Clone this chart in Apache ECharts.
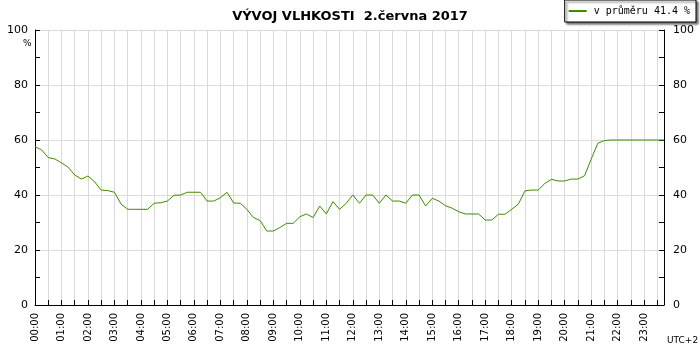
<!DOCTYPE html>
<html><head><meta charset="utf-8">
<script src="https://cdn.jsdelivr.net/npm/echarts@6/dist/echarts.min.js"></script>
<style>html,body{margin:0;padding:0;background:#fff}#c{width:700px;height:350px}</style>
</head><body><div id="c"></div>
<script>
// humidity (%) every 15 minutes from 00:00 to 23:45
const stepMinutes = 15;
const humidity = [
  57.6, 56.4, 53.6, 53.1, 51.7, 50.1, 47.3, 45.8, 46.9, 44.8, 41.8, 41.6,
  41.0, 36.7, 34.8, 34.8, 34.8, 34.8, 37.0, 37.2, 37.8, 39.9, 40.0, 41.0,
  41.0, 41.0, 37.8, 37.8, 39.0, 41.0, 37.1, 37.0, 34.8, 31.8, 30.7, 26.9,
  26.9, 28.2, 29.7, 29.7, 32.1, 33.1, 31.8, 36.0, 33.1, 37.6, 34.8, 37.0,
  40.0, 37.0, 40.0, 40.0, 37.0, 40.0, 37.8, 37.8, 37.0, 40.0, 40.0, 36.0,
  38.8, 37.8, 36.1, 35.2, 33.9, 33.1, 33.1, 33.1, 30.9, 30.9, 33.0, 33.0,
  34.8, 36.7, 41.5, 41.8, 41.8, 44.2, 45.7, 45.1, 45.1, 45.8, 45.8, 47.0,
  53.0, 58.8, 59.8, 60.0, 60.0, 60.0, 60.0, 60.0, 60.0, 60.0, 60.0, 60.0
];
const seriesName = 'v průměru 41.4 %';
const titleText = 'VÝVOJ VLHKOSTI  2.června 2017';
const yTicks = [0, 20, 40, 60, 80, 100];

const points = humidity.map((v, i) => [i * stepMinutes, v]);
const xMax = (humidity.length - 1) * stepMinutes;
const pad = n => (n < 10 ? '0' : '') + n;
const font = 'DejaVu Sans';
const gridColor = '#dadada';

function yAxisCfg(pos, margin) {
  return {
    type: 'value', position: pos, min: yTicks[0], max: yTicks[yTicks.length - 1],
    interval: yTicks[1] - yTicks[0],
    axisLine: { show: true, lineStyle: { color: '#000', width: 1 } },
    axisTick: { show: true, inside: true, length: 5, lineStyle: { color: '#000' } },
    minorTick: { show: true, splitNumber: 2, length: 5, lineStyle: { color: '#000' } },
    axisLabel: { color: '#000', fontFamily: font, fontSize: 11, margin: margin },
    splitLine: { show: pos === 'left', lineStyle: { color: gridColor, width: 1 } }
  };
}

const chart = echarts.init(document.getElementById('c'), null, { renderer: 'canvas' });
chart.setOption({
  animation: false,
  backgroundColor: '#fff',
  title: {
    text: titleText, left: 'center', top: 5,
    textStyle: { fontFamily: font, fontWeight: 'bold', fontSize: 13, color: '#000' }
  },
  legend: {
    data: [seriesName], right: 4, top: 0,
    backgroundColor: '#fff', borderColor: '#000', borderWidth: 1,
    padding: [6, 6, 6, 4], itemWidth: 18, itemHeight: 2, itemGap: 0,
    icon: 'rect',
    shadowColor: 'rgba(0,0,0,0.55)', shadowBlur: 2, shadowOffsetX: 2, shadowOffsetY: 2,
    textStyle: { fontFamily: 'DejaVu Sans Mono', fontSize: 10, color: '#000', padding: [0, 0, 0, 2] }
  },
  grid: { left: 35, right: 36, top: 30, bottom: 45 },
  xAxis: {
    type: 'value', min: 0, max: xMax, interval: 30,
    axisLine: { show: true, onZero: false, lineStyle: { color: '#000', width: 1 } },
    axisTick: { show: true, inside: true, length: 5, lineStyle: { color: '#000' } },
    axisLabel: {
      rotate: 90, margin: 8, color: '#000', fontFamily: font, fontSize: 10,
      showMaxLabel: false,
      formatter: v => (v % 60 === 0 ? pad(v / 60) + ':00' : '')
    },
    splitLine: { show: true, lineStyle: { color: gridColor, width: 1 } }
  },
  yAxis: [yAxisCfg('left', 7), yAxisCfg('right', 9)],
  graphic: [
    { type: 'text', left: 23, top: 39, style: { text: '%', fontFamily: font, fontSize: 9, fill: '#000' } },
    { type: 'text', left: 667, top: 336, style: { text: 'UTC+2', fontFamily: font, fontSize: 9, fill: '#000' } }
  ],
  series: [{
    name: seriesName, type: 'line', data: points, showSymbol: false, symbol: 'none',
    yAxisIndex: 0, color: '#3c8c00',
    lineStyle: { width: 1, color: '#3c8c00' }
  }]
});
</script></body></html>
